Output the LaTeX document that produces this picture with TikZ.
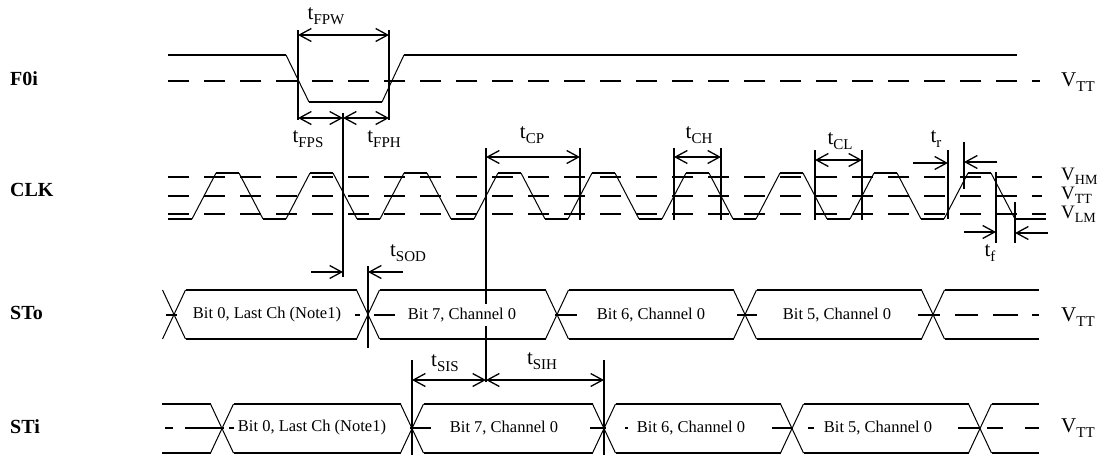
\documentclass[tikz,border=0pt]{standalone}
\usepackage{fontspec}
\setmainfont{Liberation Serif}
\usetikzlibrary{arrows.meta}
\newcommand{\tsub}[2]{#1\raisebox{-0.55ex}{\fontsize{15}{15}\selectfont #2}}
\newcommand{\vsub}[2]{#1\raisebox{-0.5ex}{\fontsize{14}{14}\selectfont #2}}
\tikzset{
  barb/.tip={Straight Barb[length=12pt,width=13pt,line width=1.3pt]},
  thk/.style={line width=1.8pt},
  thn/.style={line width=1.0pt},
  vttline/.style={line width=1.8pt, dash pattern=on 21pt off 15pt},
  vline/.style={line width=1.6pt},
  dimboth/.style={line width=1.4pt, barb-barb},
  dimto/.style={line width=1.4pt, -barb},
  sig/.style={font=\fontsize{20}{20}\selectfont\bfseries, anchor=west, inner sep=0pt},
  lvl/.style={font=\fontsize{21}{21}\selectfont, anchor=west, inner sep=0pt},
  lvls/.style={font=\fontsize{19}{19}\selectfont, anchor=west, inner sep=0pt},
  tlab/.style={font=\fontsize{21}{21}\selectfont, inner sep=0pt},
  bitlab/.style={font=\fontsize{16.5}{17}\selectfont, fill=white, inner xsep=3pt, inner ysep=4pt},
}
\begin{document}
\begin{tikzpicture}[x=1pt,y=-1pt]
\useasboundingbox (0,0) rectangle (1108,458);

% signal names
\node[sig] (nF) at (10,79) {F0i};
\node[sig] (nC) at (10,190) {CLK};
\node[sig] (nSo) at (10,313) {STo};
\node[sig] (nSi) at (10,427) {STi};

% ---------------- F0i
\draw[vttline] (168,81) -- (1040,81);
\draw[thk] (168,55) -- (286,55);
\draw[thn] (286,55) -- (309,102);
\draw[thk] (309,102) -- (382,102);
\draw[thn] (382,102) -- (404,55);
\draw[thk] (404,55) -- (1017,55);
\node[lvl] (vF) at (1061,82) {\tsub{V}{TT}};

% tFPW
\coordinate (fpwA) at (298,30);
\coordinate (fpwB) at (389,30);
\coordinate (fpwA2) at (298,120);
\coordinate (fpwB2) at (389,120);
\draw[vline] (fpwA) -- (fpwA2);
\draw[vline] (fpwB) -- (fpwB2);
\coordinate (fpwL) at (298,35);
\coordinate (fpwR) at (389,35);
\draw[dimboth] (fpwL) -- (fpwR);
\node[tlab] (lFPW) at (326,16) {\tsub{t}{FPW}};
% tFPS / tFPH
\coordinate (fpsL) at (298,118);
\coordinate (fpsM) at (343,118);
\coordinate (fpsR) at (389,118);
\draw[dimboth] (fpsL) -- (fpsM);
\draw[dimboth] (fpsM) -- (fpsR);
\coordinate (mTop) at (343,113);
\coordinate (mBot) at (343,277);
\draw[vline] (mTop) -- (mBot);
\node[tlab] (lFPS) at (308,139) {\tsub{t}{FPS}};
\node[tlab] (lFPH) at (384,139) {\tsub{t}{FPH}};

% ---------------- CLK
\draw[vttline] (168,177) -- (1042,177);
\draw[vttline] (168,196) -- (1042,196);
\draw[vttline] (168,214) -- (1046,214);
\draw[thk] (168,219) -- (192,219);
\foreach \k in {0,...,8}{
  \pgfmathsetmacro{\ra}{192+94*\k}
  \pgfmathsetmacro{\rb}{\ra+24}
  \pgfmathsetmacro{\rc}{\ra+47}
  \pgfmathsetmacro{\rd}{\ra+71}
  \pgfmathsetmacro{\re}{\k==8 ? 1046 : \ra+94}
  \draw[thn] (\ra,219) -- (\rb,173);
  \draw[thk] (\rb,173) -- (\rc,173);
  \draw[thn] (\rc,173) -- (\rd,219);
  \draw[thk] (\rd,219) -- (\re,219);
}
\node[lvls] (vHM) at (1061,176) {\vsub{V}{HM}};
\node[lvls] (vTTc) at (1061,195) {\vsub{V}{TT}};
\node[lvls] (vLM) at (1061,214) {\vsub{V}{LM}};

% tCP
\coordinate (cpA) at (486,148);
\coordinate (cpA2) at (486,382);
\coordinate (cpB) at (580,148);
\coordinate (cpB2) at (580,220);
\draw[vline] (cpA) -- (cpA2);
\draw[vline] (cpB) -- (cpB2);
\coordinate (cpL) at (486,157);
\coordinate (cpR) at (580,157);
\draw[dimboth] (cpL) -- (cpR);
\node[tlab] (lCP) at (532,135) {\tsub{t}{CP}};
% tCH
\coordinate (chA) at (674,148);
\coordinate (chA2) at (674,220);
\coordinate (chB) at (721,148);
\coordinate (chB2) at (721,220);
\draw[vline] (chA) -- (chA2);
\draw[vline] (chB) -- (chB2);
\coordinate (chL) at (674,157);
\coordinate (chR) at (721,157);
\draw[dimboth] (chL) -- (chR);
\node[tlab] (lCH) at (699,135) {\tsub{t}{CH}};
% tCL
\coordinate (clA) at (815,150);
\coordinate (clA2) at (815,220);
\coordinate (clB) at (862,150);
\coordinate (clB2) at (862,220);
\draw[vline] (clA) -- (clA2);
\draw[vline] (clB) -- (clB2);
\coordinate (clL) at (815,160);
\coordinate (clR) at (862,160);
\draw[dimboth] (clL) -- (clR);
\node[tlab] (lCL) at (840,141) {\tsub{t}{CL}};
% tr
\coordinate (trA) at (948,150);
\coordinate (trA2) at (948,219);
\coordinate (trB) at (964,142);
\coordinate (trB2) at (964,189);
\draw[vline] (trA) -- (trA2);
\draw[vline] (trB) -- (trB2);
\coordinate (trT1) at (913,163);
\coordinate (trH1) at (948,163);
\coordinate (trT2) at (997,162);
\coordinate (trH2) at (964,162);
\draw[dimto] (trT1) -- (trH1);
\draw[dimto] (trT2) -- (trH2);
\node[tlab] (lTr) at (936,139) {\tsub{t}{r}};
% tf
\coordinate (tfA) at (996,172);
\coordinate (tfA2) at (996,243);
\coordinate (tfB) at (1015,202);
\coordinate (tfB2) at (1015,243);
\draw[vline] (tfA) -- (tfA2);
\draw[vline] (tfB) -- (tfB2);
\coordinate (tfT1) at (964,232);
\coordinate (tfH1) at (996,232);
\coordinate (tfT2) at (1048,233);
\coordinate (tfH2) at (1015,233);
\draw[dimto] (tfT1) -- (tfH1);
\draw[dimto] (tfT2) -- (tfH2);
\node[tlab] (lTf) at (990,253) {\tsub{t}{f}};

% tSOD
\coordinate (sodT1) at (311,272);
\coordinate (sodH1) at (343,272);
\draw[dimto] (sodT1) -- (sodH1);
\coordinate (sodA) at (368,266);
\coordinate (sodA2) at (368,348);
\draw[vline] (sodA) -- (sodA2);
\coordinate (sodT2) at (403,272);
\coordinate (sodH2) at (368,272);
\draw[dimto] (sodT2) -- (sodH2);
\node[tlab] (lSOD) at (408,253) {\tsub{t}{SOD}};

% ---------------- STo
\foreach \a/\b in {166/177,355/360,374/395,555/577,737/757,918/940,955/978,993/1018,1032/1039}{
  \draw[thk] (\a,315) -- (\b,315);
}
\foreach \c in {174,368,557,745,933}{
  \draw[thn] (\c-11.5,290) -- (\c+11.5,339);
  \draw[thn] (\c-11.5,339) -- (\c+11.5,290);
}
\foreach \a/\b in {174/368,368/557,557/745,745/933}{
  \draw[thk] (\a+11.5,290) -- (\b-11.5,290);
  \draw[thk] (\a+11.5,339) -- (\b-11.5,339);
}
\draw[thk] (944.5,290) -- (1039,290);
\draw[thk] (944.5,339) -- (1039,339);
\node[bitlab] (o0) at (267,315) {Bit 0, Last Ch (Note1)};
\node[bitlab] (o7) at (462,315) {Bit 7, Channel 0};
\node[bitlab] (o6) at (651,315) {Bit 6, Channel 0};
\node[bitlab] (o5) at (837,315) {Bit 5, Channel 0};
\node[lvl] (vSo) at (1061,317) {\tsub{V}{TT}};

% ---------------- STi
\coordinate (sisA) at (412,360);
\coordinate (sisA2) at (412,455);
\coordinate (sihB) at (604,360);
\coordinate (sihB2) at (604,455);
\draw[vline] (sisA) -- (sisA2);
\draw[vline] (sihB) -- (sihB2);
\coordinate (sisL) at (412,380);
\coordinate (sisM) at (486,380);
\coordinate (sihR) at (604,380);
\draw[dimboth] (sisL) -- (sisM);
\draw[dimboth] (sisM) -- (sihR);
\node[tlab] (lSIS) at (445,363) {\tsub{t}{SIS}};
\node[tlab] (lSIH) at (542,361) {\tsub{t}{SIH}};

\foreach \a/\b in {165/173,185/224,229/234,410/431,590/606,625/628,772/793,808/814,958/980,987/1003,1025/1039}{
  \draw[thk] (\a,428) -- (\b,428);
}
\draw[thk] (162,404) -- (210.5,404);
\draw[thk] (162,453) -- (210.5,453);
\foreach \c in {222,412,604,792,980}{
  \draw[thn] (\c-11.5,404) -- (\c+11.5,453);
  \draw[thn] (\c-11.5,453) -- (\c+11.5,404);
}
\foreach \a/\b in {222/412,412/604,604/792,792/980}{
  \draw[thk] (\a+11.5,404) -- (\b-11.5,404);
  \draw[thk] (\a+11.5,453) -- (\b-11.5,453);
}
\draw[thk] (991.5,404) -- (1039,404);
\draw[thk] (991.5,453) -- (1039,453);
\node[bitlab] (i0) at (312,428) {Bit 0, Last Ch (Note1)};
\node[bitlab] (i7) at (504,428) {Bit 7, Channel 0};
\node[bitlab] (i6) at (691,428) {Bit 6, Channel 0};
\node[bitlab] (i5) at (878,428) {Bit 5, Channel 0};
\node[lvl] (vSi) at (1061,428) {\tsub{V}{TT}};
\end{tikzpicture}
\end{document}
